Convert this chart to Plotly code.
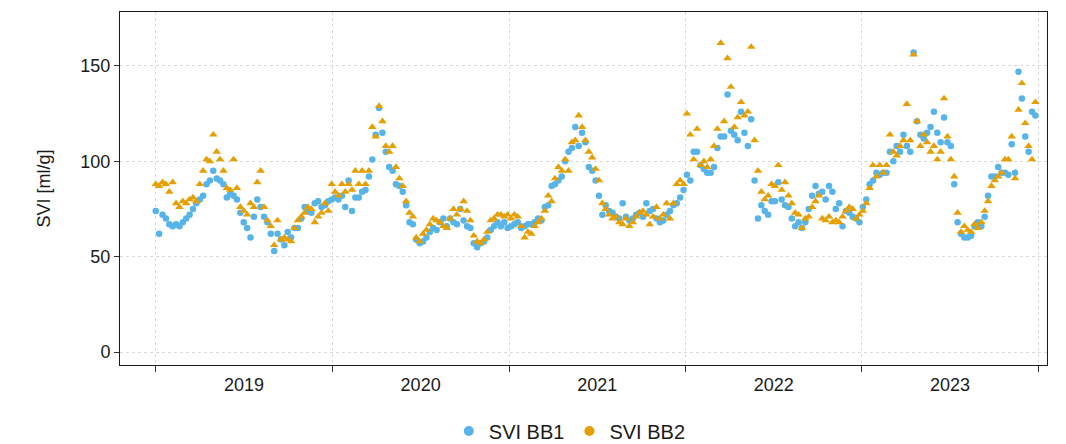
import pandas as pd
import plotly.graph_objects as go

# weekly SVI readings
svi_bb1_2019 = [74, 62, 72, 70, 67, 66, 67, 66, 68, 70, 72, 75, 78, 80, 82, 88, 90, 95, 91, 90,
                88, 81, 83, 82, 80, 73, 68, 65, 60, 71, 80, 76, 71, 68, 62, 53, 62, 59, 56, 63,
                60, 65, 65, 70, 76, 74, 73, 78, 79, 76, 77, 79]
svi_bb1_2020 = [80, 81, 80, 82, 76, 90, 74, 81, 81, 84, 85, 92, 101, 114, 128, 115, 105, 97, 95, 88,
                87, 84, 77, 68, 67, 59, 57, 58, 60, 63, 65, 64, 68, 70, 66, 70, 68, 67, 75, 69,
                66, 65, 57, 55, 57, 58, 60, 64, 66, 68, 66, 68, 65]
svi_bb1_2021 = [66, 67, 68, 65, 66, 67, 67, 68, 70, 69, 76, 77, 87, 88, 90, 92, 100, 105, 107, 118,
                108, 115, 110, 97, 95, 90, 82, 72, 77, 74, 73, 71, 70, 78, 71, 69, 70, 72, 73, 71,
                78, 74, 75, 70, 68, 69, 72, 74, 77, 78, 81, 85]
svi_bb1_2022 = [93, 90, 105, 105, 98, 96, 94, 94, 97, 107, 113, 113, 135, 116, 114, 111, 126, 115, 108, 122,
                90, 70, 77, 74, 72, 79, 79, 89, 80, 77, 76, 70, 66, 68, 65, 68, 75, 82, 87, 83,
                84, 80, 87, 84, 75, 78, 66, 74, 73, 71, 70, 68]
svi_bb1_2023 = [76, 80, 88, 90, 94, 93, 94, 94, 105, 100, 108, 105, 114, 108, 105, 157, 121, 114, 112, 115,
                118, 126, 115, 110, 123, 110, 108, 88, 68, 62, 60, 60, 61, 66, 68, 66, 71, 82, 92, 92,
                97, 94, 94, 93, 109, 94, 147, 133, 113, 105, 126, 124]

svi_bb2_2019 = [88, 87, 89, 88, 84, 89, 78, 76, 79, 78, 80, 81, 79, 88, 95, 101, 100, 114, 105, 101,
                95, 86, 85, 101, 86, 76, 74, 72, 78, 76, 89, 95, 76, 69, 66, 56, 69, 59, 60, 59,
                58, 65, 69, 71, 73, 76, 75, 68, 71, 73, 78, 74]
svi_bb2_2020 = [88, 84, 82, 88, 84, 88, 85, 95, 88, 95, 88, 95, 118, 113, 129, 121, 108, 105, 108, 97,
                91, 87, 79, 73, 71, 60, 58, 62, 64, 67, 70, 69, 68, 66, 65, 70, 75, 72, 75, 79,
                74, 69, 61, 58, 57, 59, 63, 69, 70, 72, 72, 71, 72]
svi_bb2_2021 = [70, 72, 71, 66, 60, 63, 62, 66, 68, 70, 74, 82, 79, 91, 97, 95, 101, 95, 110, 111,
                124, 118, 111, 105, 102, 96, 90, 78, 75, 72, 70, 71, 68, 67, 70, 66, 68, 71, 73, 74,
                72, 67, 71, 76, 70, 72, 78, 70, 78, 88, 90, 88]
svi_bb2_2022 = [125, 114, 101, 117, 98, 100, 97, 101, 108, 117, 162, 121, 154, 139, 118, 123, 131, 124, 126, 160,
                111, 95, 84, 80, 82, 88, 87, 98, 85, 89, 82, 78, 73, 72, 65, 70, 71, 76, 79, 82,
                70, 69, 71, 68, 69, 68, 71, 74, 76, 75, 70, 72]
svi_bb2_2023 = [74, 78, 86, 98, 92, 98, 94, 98, 114, 105, 103, 108, 111, 130, 111, 156, 121, 108, 114, 110,
                105, 108, 101, 105, 133, 113, 101, 92, 73, 63, 66, 64, 63, 67, 65, 68, 74, 79, 87, 90,
                92, 94, 101, 101, 113, 91, 127, 141, 120, 108, 101, 131]

svi_bb1 = svi_bb1_2019 + svi_bb1_2020 + svi_bb1_2021 + svi_bb1_2022 + svi_bb1_2023
svi_bb2 = svi_bb2_2019 + svi_bb2_2020 + svi_bb2_2021 + svi_bb2_2022 + svi_bb2_2023
dates = pd.date_range('2019-01-01', periods=len(svi_bb1), freq='7D')

BLUE = '#56B4E9'
ORANGE = '#E69F00'
FONT = 'Liberation Sans'
TEXT = '#1a1a1a'

fig = go.Figure()
fig.add_trace(go.Scatter(x=dates, y=svi_bb1, mode='markers', showlegend=False,
                         marker=dict(symbol='circle', size=6.5, color=BLUE)))
fig.add_trace(go.Scatter(x=dates, y=svi_bb2, mode='markers', showlegend=False,
                         marker=dict(symbol='triangle-up', size=7.5, color=ORANGE)))
# legend keys are plain dots for both series
for name, colour in [('SVI BB1', BLUE), ('SVI BB2', ORANGE)]:
  fig.add_trace(go.Scatter(x=[None], y=[None], mode='markers', name=name,
                           marker=dict(symbol='circle', size=10, color=colour)))

fig.update_xaxes(
    range=['2018-10-19', '2024-01-19'], automargin=False,
    tick0='2019-01-01', dtick='M12', tickformat='%Y', ticklabelmode='period',
    ticks='outside', ticklen=6, tickcolor='#333', ticklabelstandoff=-3,
    showgrid=True, gridcolor='#d9d9d9', griddash='dot', gridwidth=1,
    showline=True, linecolor=TEXT, linewidth=1, mirror=True,
    tickfont=dict(family=FONT, size=18, color=TEXT))
fig.update_yaxes(
    range=[-6.8, 178.3], tickvals=[0, 50, 100, 150], automargin=False,
    ticks='outside', ticklen=5, tickcolor='#333', zeroline=False,
    showgrid=True, gridcolor='#d9d9d9', griddash='dot', gridwidth=1,
    showline=True, linecolor=TEXT, linewidth=1, mirror=True,
    tickfont=dict(family=FONT, size=18, color=TEXT),
    title=dict(text='SVI [ml/g]', standoff=25,
               font=dict(family=FONT, size=18, color=TEXT)))

# the page adds an 8px body margin, so the figure is 8px smaller each way
fig.update_layout(
    width=1058, height=436,
    margin=dict(l=112, r=19, t=4, b=79),
    plot_bgcolor='white', paper_bgcolor='white',
    legend=dict(orientation='h', x=0.531, xref='container', xanchor='center',
                y=0.03, yref='container', yanchor='middle',
                font=dict(family=FONT, size=20, color=TEXT),
                itemwidth=30, tracegroupgap=0))

fig.write_html('out.html')
